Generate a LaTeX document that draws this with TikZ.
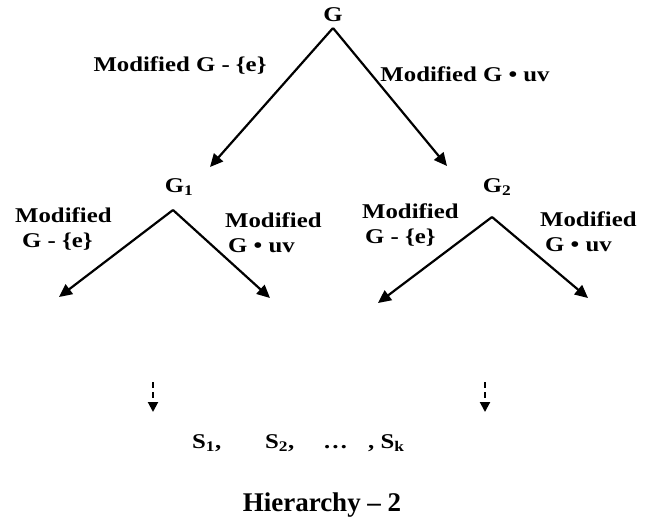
\documentclass[tikz,border=0pt]{standalone}
\usepackage{fontspec}
\setmainfont{Liberation Serif}[FakeStretch=1.18]
\newfontfamily\titlefont{Liberation Serif}
\usetikzlibrary{arrows.meta}
\begin{document}
\begin{tikzpicture}[x=1pt,y=-1pt,
  lbl/.style={font=\bfseries\fontsize{21}{25}\selectfont, inner sep=0pt},
  two/.style={lbl, align=left, anchor=west},
  arr/.style={line width=2.2pt, -{Triangle[length=13pt,width=12pt]}},
  darr/.style={line width=2pt, dash pattern=on 6pt off 4pt, -{Triangle[length=10pt,width=10pt]}}]
\useasboundingbox (0,0) rectangle (650,522);
% vertices
\node[lbl] (G) at (333,15) {G};
\node[lbl] (G1) at (179,187) {G\textsubscript{1}};
\node[lbl] (G2) at (497,187) {G\textsubscript{2}};
% apex and tips
\coordinate (a0) at (333,28);
\coordinate (a1) at (173,210);
\coordinate (a2) at (492,217);
\coordinate (t1) at (210,167);
\coordinate (t2) at (447,166);
\coordinate (t3) at (59,297);
\coordinate (t4) at (270,298);
\coordinate (t5) at (378,303);
\coordinate (t6) at (588,298);
\draw[arr] (a0) -- (t1);
\draw[arr] (a0) -- (t2);
\draw[arr] (a1) -- (t3);
\draw[arr] (a1) -- (t4);
\draw[arr] (a2) -- (t5);
\draw[arr] (a2) -- (t6);
% dashed arrows
\coordinate (d1s) at (153,382);
\coordinate (d1e) at (153,412);
\coordinate (d2s) at (485,382);
\coordinate (d2e) at (485,412);
\draw[darr] (d1s) -- (d1e);
\draw[darr] (d2s) -- (d2e);
% labels
\node[lbl] (l1) at (180,66) {Modified G - \{e\}};
\node[lbl] (l2) at (465,74) {Modified G \textbullet\ uv};
\node[two] (l3) at (15,229) {Modified\\\hspace{7pt}G - \{e\}};
\node[two] (l4) at (225,233) {Modified\\\hspace{3pt}G \textbullet\ uv};
\node[two] (l5) at (362,225) {Modified\\\hspace{3pt}G - \{e\}};
\node[two] (l6) at (540,232) {Modified\\\hspace{5pt}G \textbullet\ uv};
% result sets
\node[lbl, anchor=west] (S) at (192,443) {\makebox[73pt][l]{S\textsubscript{1},}\makebox[58pt][l]{S\textsubscript{2},}\makebox[45pt][l]{\textellipsis}, S\textsubscript{k}};
% caption
\node[inner sep=0pt, font=\titlefont\bfseries\fontsize{27}{30}\selectfont] (title) at (322,505) {Hierarchy \textendash\ 2};
\end{tikzpicture}
\end{document}
